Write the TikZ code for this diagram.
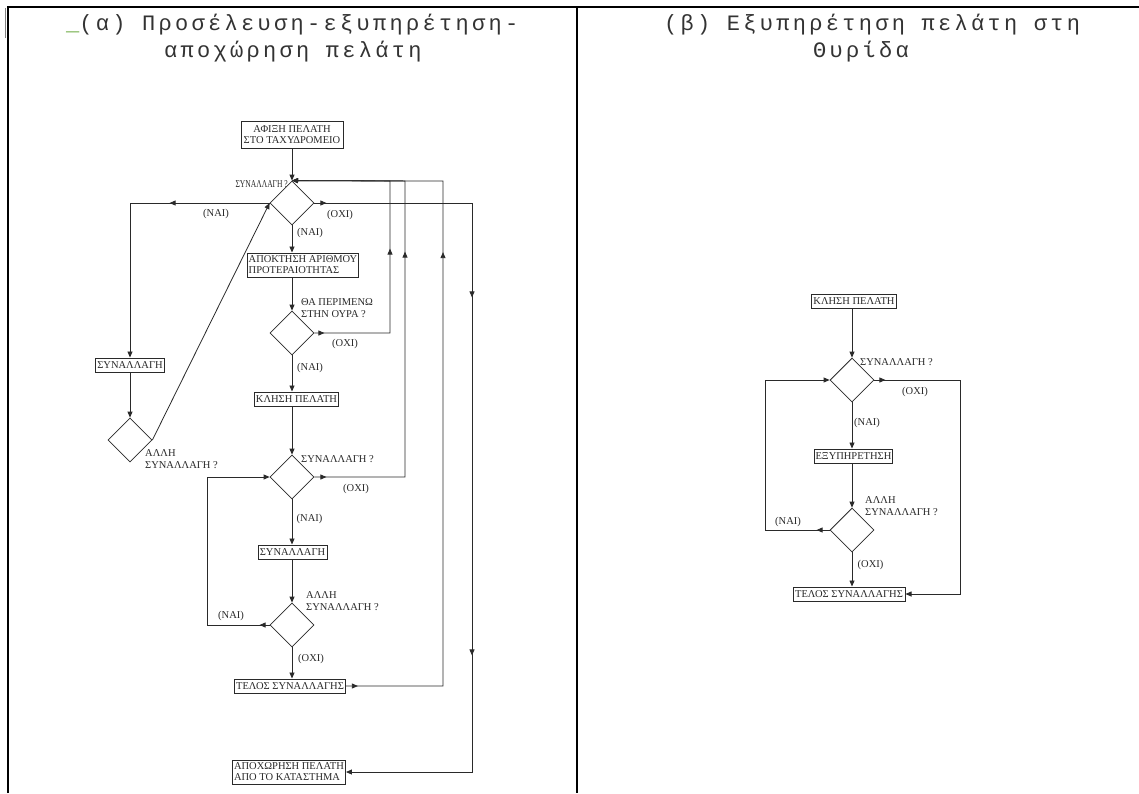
\documentclass[tikz,border=0pt]{standalone}
\usepackage{fontspec}
\setmainfont{Liberation Serif}
\newfontfamily\hdrfont[LetterSpace=15]{Liberation Mono}
\usetikzlibrary{arrows.meta,shapes.geometric,decorations.markings}
\definecolor{hgreen}{HTML}{70AD47}
\definecolor{ink}{HTML}{2A2A2A}
\tikzset{
  ln/.style={draw=ink, line width=0.8pt},
  arr/.style={ln, -{Triangle[length=6pt,width=5pt]}},
  tipat/.style={postaction={decorate, decoration={markings, mark=at position #1 with {\arrow{Triangle[length=6pt,width=5pt]}}}}},
  box/.style={draw=ink, line width=1pt, fill=white, inner xsep=1.5pt, inner ysep=1pt, minimum height=14pt, align=center, text=ink, font=\fontsize{10.5}{11}\selectfont},
  dia/.style={draw=ink, line width=0.8pt, diamond, minimum width=44pt, minimum height=44pt, inner sep=0pt},
  lbl/.style={inner sep=0pt, align=left, text=ink, font=\fontsize{10.5}{12.5}\selectfont},
  hdr/.style={inner sep=0pt, text=black!80, font=\hdrfont\fontsize{22}{27}\selectfont},
  tbl/.style={draw=black, line width=1.8pt}
}
\begin{document}
\begin{tikzpicture}[x=1pt,y=-1pt]
\useasboundingbox (0,0) rectangle (1139,793);
\fill[white] (0,0) rectangle (1139,793);
% table
\draw[tbl] (8,793) -- (8,7) -- (1139,7);
\draw[tbl] (577,7) -- (577,793);
\draw[black!50, line width=0.6pt] (5.5,8) -- (5.5,38);
% headers
\node[hdr, anchor=base west] (h1) at (66,30) {{\color{hgreen}\_}(α) Προσέλευση-εξυπηρέτηση-};
\node[hdr, anchor=base west] (h2) at (164,57) {αποχώρηση πελάτη};
\node[hdr, anchor=base west] (h3) at (664,30) {(β) Εξυπηρέτηση πελάτη στη};
\node[hdr, anchor=base west] (h4) at (813,57) {Θυρίδα};
% ---------- left chart ----------
\node[box, minimum width=102pt, minimum height=27pt] (bA) at (292,135) {ΑΦΙΞΗ ΠΕΛΑΤΗ\\ΣΤΟ ΤΑΧΥΔΡΟΜΕΙΟ};
\node[dia] (d1) at (292,203) {};
\node[box, minimum width=110pt, minimum height=24pt, align=left] (bB) at (303,265) {ΑΠΟΚΤΗΣΗ ΑΡΙΘΜΟΥ\\ΠΡΟΤΕΡΑΙΟΤΗΤΑΣ};
\node[dia] (d2) at (292,333) {};
\node[box, minimum width=82pt] (bC) at (296.5,399) {ΚΛΗΣΗ ΠΕΛΑΤΗ};
\node[dia] (d3) at (292,477) {};
\node[box, minimum width=69pt] (bS) at (292.5,552) {ΣΥΝΑΛΛΑΓΗ};
\node[dia] (d4) at (292,625) {};
\node[box, minimum width=109pt] (bT) at (290,686) {ΤΕΛΟΣ ΣΥΝΑΛΛΑΓΗΣ};
\node[box, minimum width=112pt, minimum height=24pt, align=left] (bE) at (289,772) {ΑΠΟΧΩΡΗΣΗ ΠΕΛΑΤΗ\\ΑΠΟ ΤΟ ΚΑΤΑΣΤΗΜΑ};
\node[box, minimum width=69pt] (bL) at (130,365) {ΣΥΝΑΛΛΑΓΗ};
\node[dia] (dL) at (130,440) {};
\coordinate (xR1) at (390,181);
\coordinate (xR2) at (405,181);
\coordinate (xR3) at (443,181);
\coordinate (xR4) at (472,203);
\coordinate (xL) at (207,477);
\draw[arr] (bA.south) -- (d1.north);
\draw[arr] (d1.south) -- (d1.south |- bB.north);
\draw[arr] (d2.north |- bB.south) -- (d2.north);
\draw[arr] (d2.south) -- (d2.south |- bC.north);
\draw[arr] (d3.north |- bC.south) -- (d3.north);
\draw[arr] (d3.south) -- (d3.south |- bS.north);
\draw[arr] (d4.north |- bS.south) -- (d4.north);
\draw[arr] (d4.south) -- (d4.south |- bT.north);
\draw[arr] (bL.south) -- (dL.north);
\draw[arr, tipat=100pt] (d1.west) -| (bL.north);
\draw[arr] (dL.east) -- (d1.west);
\draw[arr, tipat=10pt, tipat=160pt] (d2.east) -| (xR1) -- (d1.north);
\draw[arr, tipat=12pt, tipat=316pt] (d3.east) -| (xR2) -- (d1.north);
\draw[arr, tipat=12pt, tipat=531pt] (bT.east) -| (xR3) -- (d1.north);
\draw[arr, tipat=12pt, tipat=252pt, tipat=610pt] (d1.east) -| (xR4 |- bE.east) -- (bE.east);
\draw[arr, tipat=10pt] (d4.west) -| (xL) -- (d3.west);
% labels left
\node[lbl, anchor=east] (l1) at (288,184) {\scalebox{0.72}[1]{ΣΥΝΑΛΛΑΓΗ ?}};
\node[lbl] (l2) at (216,214) {(ΝΑΙ)};
\node[lbl] (l3) at (340,215) {(ΟΧΙ)};
\node[lbl] (l4) at (310,233) {(ΝΑΙ)};
\node[lbl, anchor=north west] (l5) at (301,298) {ΘΑ ΠΕΡΙΜΕΝΩ\\ΣΤΗΝ ΟΥΡΑ ?};
\node[lbl] (l6) at (345,344) {(ΟΧΙ)};
\node[lbl] (l7) at (310,368) {(ΝΑΙ)};
\node[lbl, anchor=west] (l8) at (301,459) {ΣΥΝΑΛΛΑΓΗ ?};
\node[lbl] (l9) at (356,489) {(ΟΧΙ)};
\node[lbl] (l10) at (309.5,519) {(ΝΑΙ)};
\node[lbl, anchor=north west] (l11) at (306,591) {ΑΛΛΗ\\ΣΥΝΑΛΛΑΓΗ ?};
\node[lbl] (l12) at (231,616) {(ΝΑΙ)};
\node[lbl] (l13) at (311,659) {(ΟΧΙ)};
\node[lbl, anchor=north west] (l14) at (145,449) {ΑΛΛΗ\\ΣΥΝΑΛΛΑΓΗ ?};
% ---------- right chart ----------
\node[box, minimum width=83pt] (rK) at (854,301) {ΚΛΗΣΗ ΠΕΛΑΤΗ};
\node[dia] (e1) at (852,380) {};
\node[box, minimum width=73pt] (rE) at (853.5,456) {ΕΞΥΠΗΡΕΤΗΣΗ};
\node[dia] (e2) at (852,530) {};
\node[box, minimum width=112pt] (rT) at (849,594) {ΤΕΛΟΣ ΣΥΝΑΛΛΑΓΗΣ};
\coordinate (xR5) at (960,380);
\coordinate (xL2) at (765,380);
\draw[arr] (e1.north |- rK.south) -- (e1.north);
\draw[arr] (e1.south) -- (e1.south |- rE.north);
\draw[arr] (e2.north |- rE.south) -- (e2.north);
\draw[arr] (e2.south) -- (e2.south |- rT.north);
\draw[arr, tipat=11pt] (e1.east) -| (xR5 |- rT.east) -- (rT.east);
\draw[arr, tipat=13pt] (e2.west) -| (xL2) -- (e1.west);
\node[lbl, anchor=west] (r1) at (860,362) {ΣΥΝΑΛΛΑΓΗ ?};
\node[lbl] (r2) at (915,392) {(ΟΧΙ)};
\node[lbl] (r3) at (867,423) {(ΝΑΙ)};
\node[lbl, anchor=north west] (r4) at (865,496) {ΑΛΛΗ\\ΣΥΝΑΛΛΑΓΗ ?};
\node[lbl] (r5) at (788,522) {(ΝΑΙ)};
\node[lbl] (r6) at (870.5,565) {(ΟΧΙ)};
\end{tikzpicture}
\end{document}
